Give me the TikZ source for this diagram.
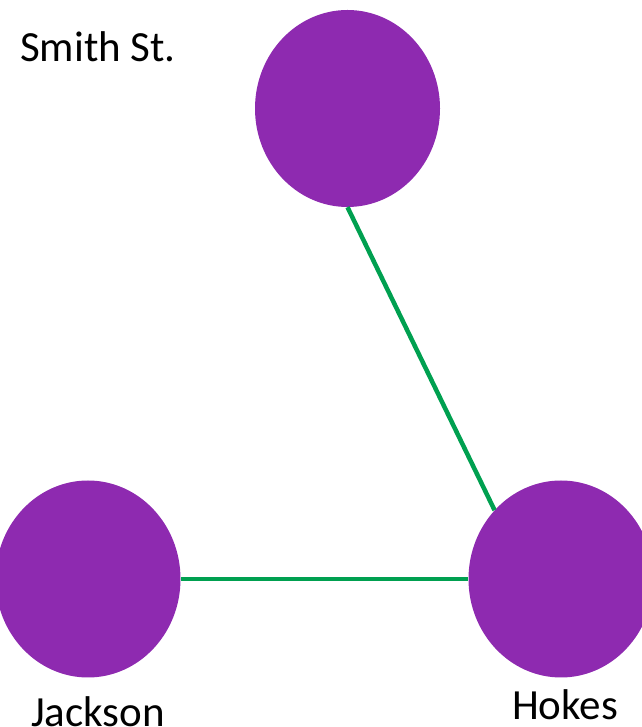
\documentclass[tikz,border=0pt]{standalone}
\usepackage{fontspec}
\setmainfont{Carlito}
\usetikzlibrary{shapes.geometric}
\definecolor{stop}{HTML}{8E2AB0}
\definecolor{route}{HTML}{00A050}
\tikzset{
  stopnode/.style={ellipse, fill=stop, draw=none, minimum width=185pt, minimum height=197pt, inner sep=0pt},
  routeline/.style={route, line width=4.5pt},
  lbl/.style={font=\fontsize{43}{50}\selectfont, inner sep=0pt, anchor=base west}
}
\begin{document}
\begin{tikzpicture}[x=1pt,y=1pt]
\useasboundingbox (0,0) rectangle (641,727);
\node[stopnode] (smith) at (347.5,618.5) {};
\node[stopnode] (jackson) at (88,148) {};
\node[stopnode] (hokes) at (561,148) {};
\draw[routeline] (smith.south) -- (hokes.134);
\draw[routeline] (jackson.east) -- (hokes.west);
\node[lbl] (smithlbl) at (20,665) {Smith St.};
\node[lbl] (jacksonlbl) at (31,1) {Jackson};
\node[lbl] (hokeslbl) at (512,7) {Hokes};
\end{tikzpicture}
\end{document}
